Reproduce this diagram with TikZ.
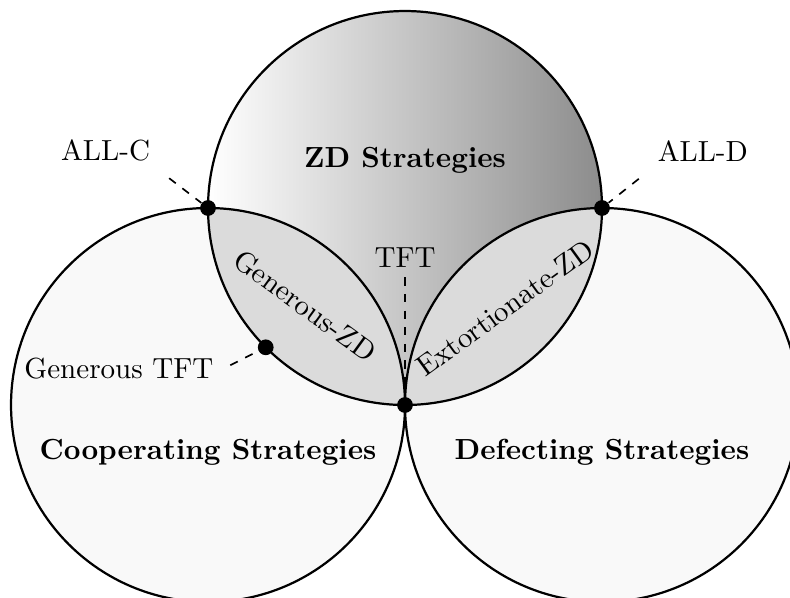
\documentclass[tikz,border=0pt]{standalone}
\usetikzlibrary{calc}

\begin{document}
\begin{tikzpicture}
[every node/.style={font=\fontsize{10.5}{12.6}\selectfont}%
,region/.style={font=\fontsize{10.5}{12.6}\selectfont\bfseries}%
,dot/.style={circle,%
	fill=black,%
	inner sep=0pt,%
	minimum size=2mm}%
,tick/.style={dashed,semithick}%
,rim/.style={draw=black,thick}]
\useasboundingbox (-5.14,-2.449) rectangle (4.886,5.14);
\coordinate (zd) at (0,2.5);
\coordinate (co) at (-2.5,0);
\coordinate (de) at (2.5,0);
% the three sets
\fill[black!2.5] (co) circle (2.5) (de) circle (2.5);
\shade[left color=white,right color=black!45] (zd) circle (2.5);
\begin{scope}
\clip (zd) circle (2.5);
\fill[black!14] (co) circle (2.5) (de) circle (2.5);
\end{scope}
\draw[rim] (zd) circle (2.5) (co) circle (2.5) (de) circle (2.5);
% set names
\node[region] (zdname) at (0,3.11) {ZD Strategies};
\node[region] (coname) at (-2.5,-0.6) {Cooperating Strategies};
\node[region] (dename) at (2.5,-0.6) {Defecting Strategies};
\node[rotate=-36] (gzd) at (-1.27,1.26) {Generous-ZD};
\node[rotate=36] (ezd) at (1.27,1.23) {Extortionate-ZD};
% single strategies
\node[dot] (allcdot) at (-2.5,2.5) {};
\node[dot] (allddot) at (2.5,2.5) {};
\node[dot] (tftdot) at (0,0) {};
\node[dot] (gtftdot) at ($(zd)+(225:2.5)$) {};
\node (allc) at (-3.80,3.23) {ALL-C};
\node (alld) at (3.78,3.22) {ALL-D};
\node (tft) at (0,1.87) {TFT};
\node (gtft) at (-3.63,0.46) {Generous TFT};
\draw[tick,shorten <=1.5mm] (allc.south east) -- (allcdot);
\draw[tick,shorten <=1.5mm] (alld.south west) -- (allddot);
\draw[tick] (tft) -- (tftdot);
\draw[tick,shorten <=1mm] (gtft.east) -- (gtftdot);
\end{tikzpicture}
\end{document}
